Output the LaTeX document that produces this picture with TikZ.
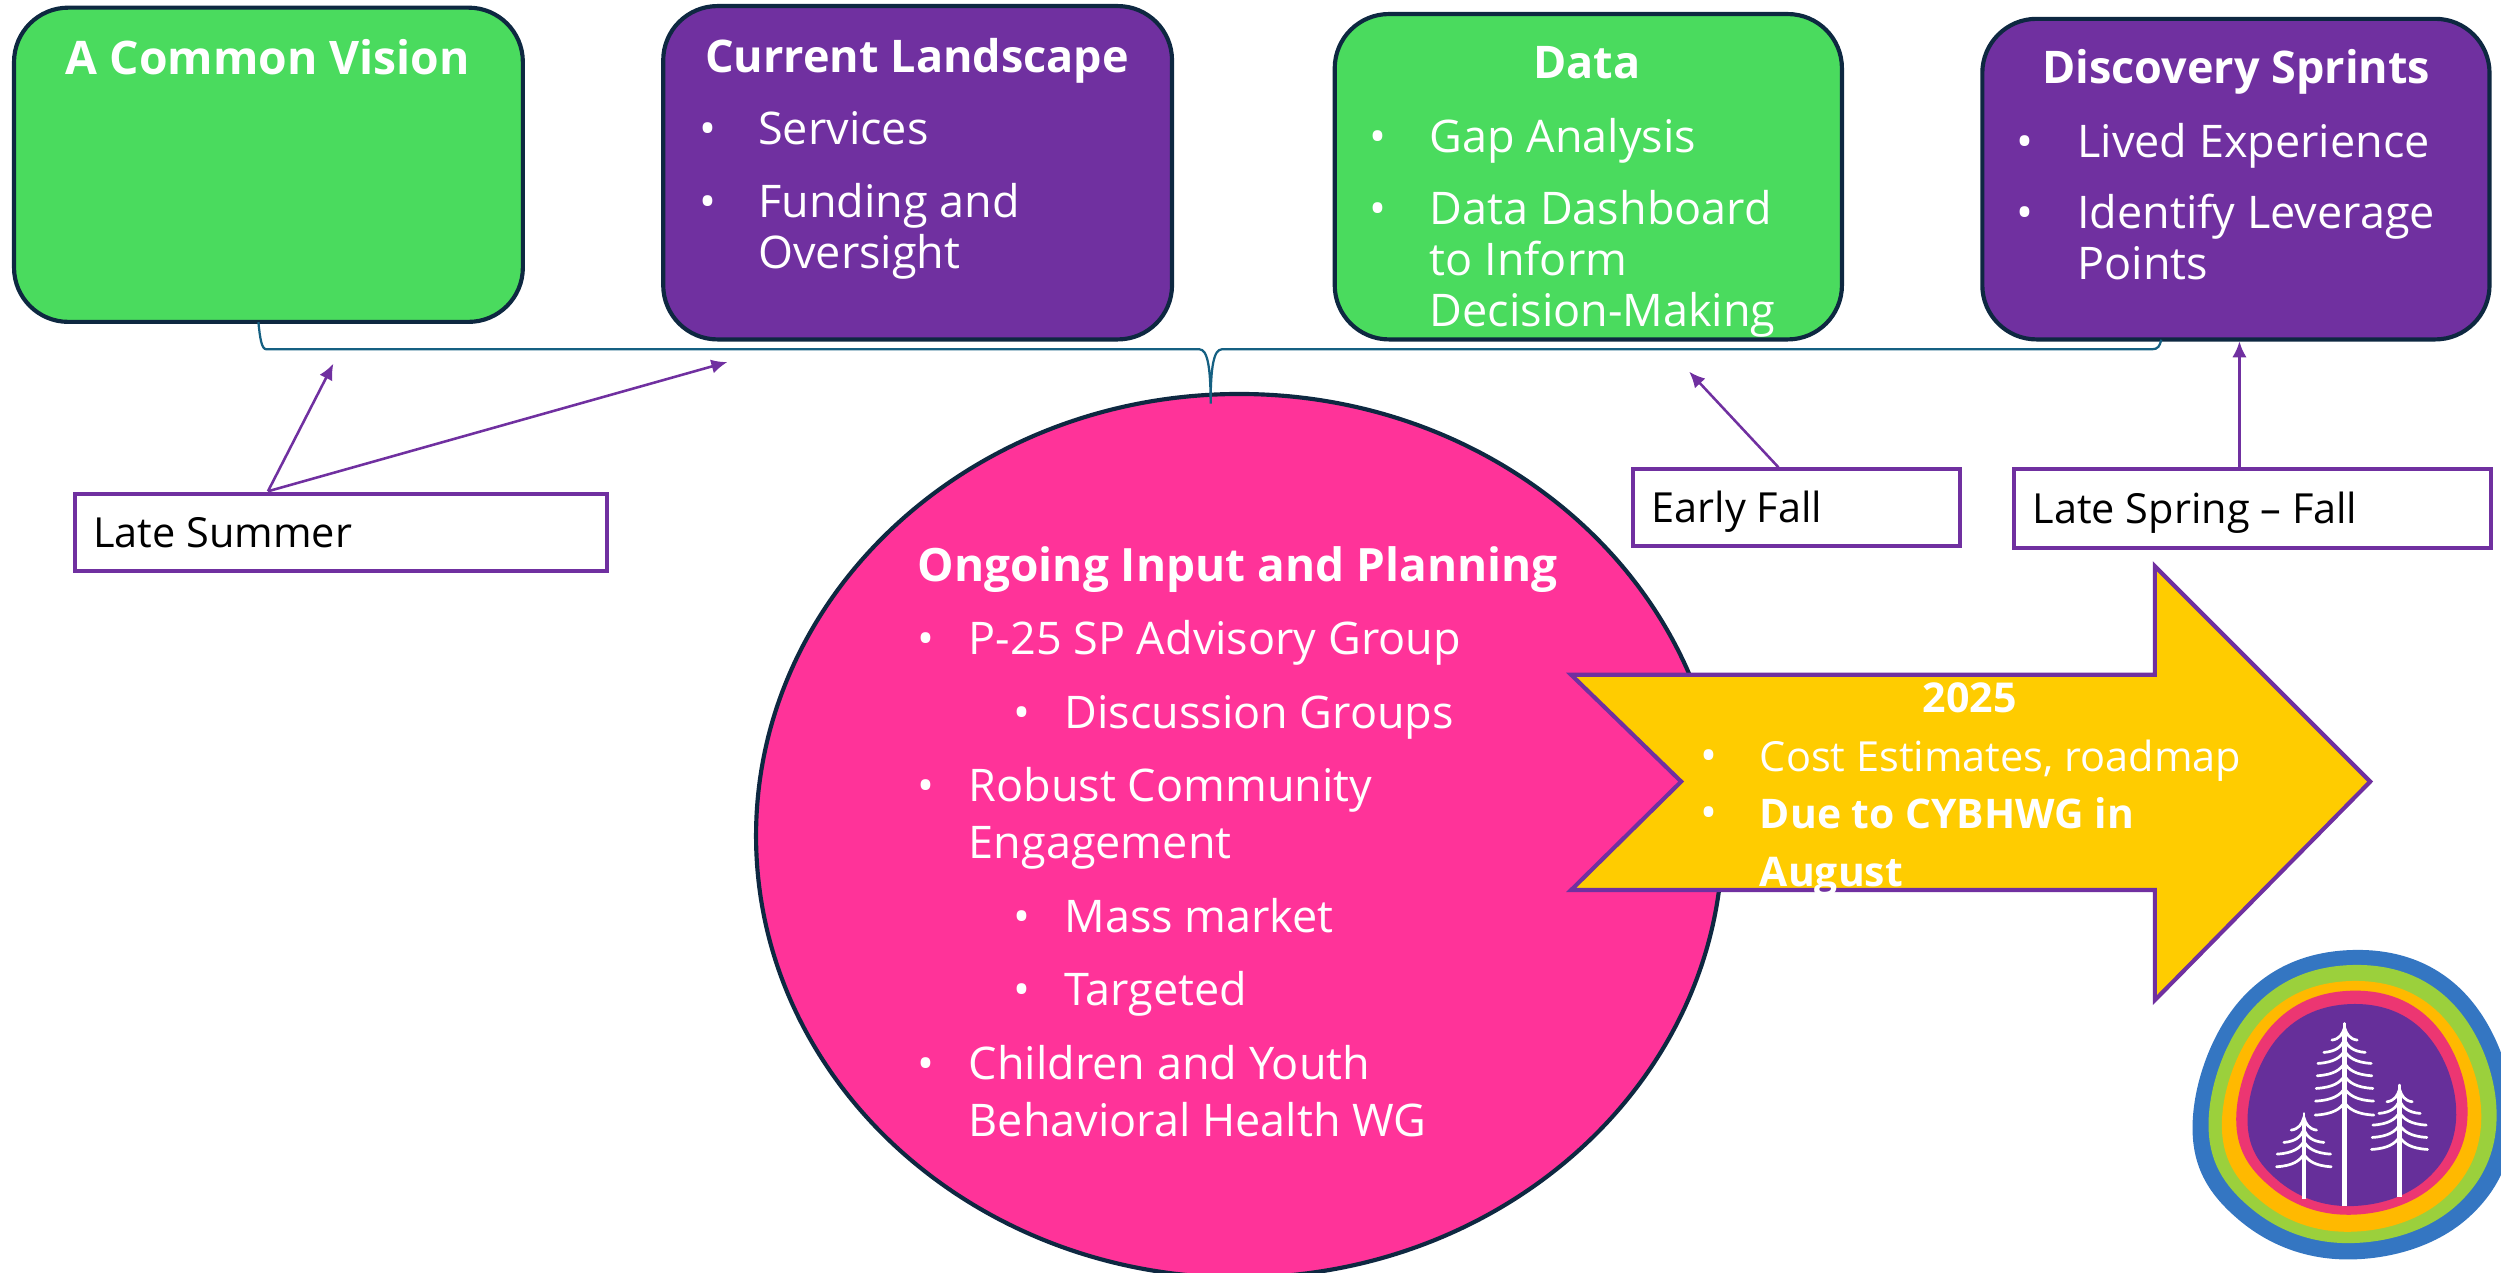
\documentclass[tikz,border=0pt]{standalone}
\usepackage{fontspec}
\setmainfont{Open Sans}
\usetikzlibrary{arrows.meta,shapes.geometric}
\definecolor{grn}{HTML}{4ADB5E}
\definecolor{prp}{HTML}{7030A0}
\definecolor{pnk}{HTML}{FF3399}
\definecolor{ylw}{HTML}{FFCC00}
\definecolor{nvy}{HTML}{0E2841}
\definecolor{tealb}{HTML}{156082}
\definecolor{lgblue}{HTML}{3476C2}
\definecolor{lggreen}{HTML}{9BD03C}
\definecolor{lgorange}{HTML}{FFB900}
\definecolor{lgpink}{HTML}{EC3672}
\definecolor{lgpurple}{HTML}{662F9A}
\tikzset{
  card/.style={draw=nvy,line width=1.3pt,rounded corners=17pt,inner sep=0pt,anchor=north west},
  tag/.style={draw=prp,line width=1.3pt,fill=white,inner sep=0pt,anchor=north west},
  txt/.style={anchor=base west,inner sep=0pt,text=white,font=\fontsize{14.1}{16}\selectfont},
  ttl/.style={anchor=base,inner sep=0pt,text=white,font=\fontsize{14.1}{16}\selectfont\bfseries},
  tagtxt/.style={anchor=base west,inner sep=0pt,text=black,font=\fontsize{13}{15}\selectfont},
  lnk/.style={draw=prp,line width=0.8pt,-{Latex[length=5pt,width=4.5pt]}},
  brace/.style={draw=tealb,line width=0.7pt},
  branch/.style={draw=white,line width=0.85pt,line cap=round},
  trunk/.style={draw=white,line width=1.4pt}
}
\newcommand{\li}[5]{\node[txt] (#1b) at (#2,#4) {•}; \node[txt] (#1) at (#3,#4) {#5};}
\newcommand{\blob}[5]{\fill[#1] plot[smooth cycle,tension=0.68] coordinates {
 ({#2+#4*(-0.02)},{#3+#5*(-1)}) ({#2+#4*0.68},{#3+#5*(-0.74)}) ({#2+#4*1},{#3+#5*0.05})
 ({#2+#4*0.72},{#3+#5*0.73}) ({#2+#4*(-0.02)},{#3+#5*1}) ({#2+#4*(-0.71)},{#3+#5*0.745})
 ({#2+#4*(-1)},{#3+#5*0.142}) ({#2+#4*(-0.70)},{#3+#5*(-0.68)})};}
\newcommand{\tree}[4]{%
 \draw[trunk] (#1,#2+20) -- (#1,#3);
 \draw[branch] (#1,#2) -- (#1,#2+50);
 \foreach \ty/\dx in {#4}{
  \draw[branch] ({#1-\dx},\ty) .. controls ({#1-0.4*\dx},{\ty-3}) and ({#1-0.15*\dx},{\ty-18}) .. (#1,{\ty-38})
     .. controls ({#1+0.15*\dx},{\ty-18}) and ({#1+0.4*\dx},{\ty-3}) .. ({#1+\dx},\ty);
 }}
\begin{document}
\begin{tikzpicture}[x=0.5pt,y=-0.5pt]
\useasboundingbox (0,0) rectangle (1568,798.1);
\clip (0,0) rectangle (1568,798.1);
% cards
\node[card,fill=grn,minimum width=159.5pt,minimum height=98.5pt] (vision) at (7.5,3.5) {};
\node[card,fill=prp,minimum width=159.5pt,minimum height=104.5pt] (land) at (414.5,2.5) {};
\node[card,fill=grn,minimum width=159pt,minimum height=102pt] (data) at (835.5,7.5) {};
\node[card,fill=prp,minimum width=159pt,minimum height=100.5pt] (sprint) at (1241.5,10.5) {};
% circle
\node[draw=nvy,line width=1.3pt,fill=pnk,ellipse,minimum width=303pt,minimum height=277pt,inner sep=0pt] (circ) at (777,524) {};
% brace
\coordinate (bl) at (162,202); \coordinate (bt) at (759,253); \coordinate (br) at (1355,213);
\draw[brace] (bl) .. controls (163,212) and (164,219) .. (167,219) -- (752,219)
  .. controls (757,219) and (759,230) .. (bt) .. controls (759,230) and (761,219) .. (766,219)
  -- (1349,219) .. controls (1353,219) and (1354,217) .. (br);
% arrow
\draw[draw=prp,line width=1.3pt,fill=ylw,line join=miter] (985,423) -- (1351,423) -- (1351,355) -- (1486,490) -- (1351,627) -- (1351,558) -- (985,558) -- (1054,490) -- cycle;
% tags
\node[tag,minimum width=167pt,minimum height=24pt] (summer) at (45.5,308.5) {};
\node[tag,minimum width=102.5pt,minimum height=24pt] (early) at (1022.5,293) {};
\node[tag,minimum width=149.5pt,minimum height=24.5pt] (spring) at (1261.5,293) {};
\coordinate (s0) at (168,308); \coordinate (s1) at (209,228); \coordinate (s2) at (456,227);
\coordinate (e0) at (1115,293); \coordinate (e1) at (1059,233);
\coordinate (p0) at (1404,293); \coordinate (p1) at (1404,214);
\draw[lnk] (s0) -- (s1);
\draw[lnk] (s0) -- (s2);
\draw[lnk] (e0) -- (e1);
\draw[lnk] (p0) -- (p1);
\node[tagtxt] (tsummer) at (58,343.5) {Late Summer};
\node[tagtxt] (tearly) at (1035,327.5) {Early Fall};
\node[tagtxt] (tspring) at (1274,328.5) {Late Spring – Fall};
% card text
\node[ttl,font=\fontsize{14.5}{16}\selectfont\bfseries] (t1) at (168,46.5) {A Common Vision};
\node[ttl] (t2) at (575,45.5) {Current Landscape};
\li{a1}{438}{475}{90.5}{Services}
\li{a2}{438}{475}{136.5}{Funding and}
\node[txt] (a3) at (475,168.5) {Oversight};
\node[ttl] (t3) at (995,49.5) {Data};
\li{b1}{858}{896}{95.5}{Gap Analysis}
\li{b2}{858}{896}{140.5}{Data Dashboard}
\node[txt] (b3) at (896,172.5) {to Inform};
\node[txt] (b4) at (896,204.5) {Decision-Making};
\node[ttl] (t4) at (1402,52.5) {Discovery Sprints};
\li{c1}{1264}{1302}{98.5}{Lived Experience}
\li{c2}{1264}{1302}{143.5}{Identify Leverage}
\node[txt] (c3) at (1302,175.5) {Points};
% circle text
\node[ttl,anchor=base west,font=\fontsize{14.4}{16}\selectfont\bfseries] (t5) at (575,364.5) {Ongoing Input and Planning};
\li{d1}{575}{607}{410.5}{P-25 SP Advisory Group}
\li{d2}{635}{667}{456.5}{Discussion Groups}
\li{d3}{575}{607}{502.5}{Robust Community}
\node[txt] (d4) at (607,538.5) {Engagement};
\li{d5}{635}{667}{584.5}{Mass market}
\li{d6}{635}{667}{630.5}{Targeted}
\li{d7}{575}{607}{676.5}{Children and Youth}
\node[txt] (d8) at (607,712.5) {Behavioral Health WG};
% arrow text
\node[ttl,font=\fontsize{12.9}{15}\selectfont\bfseries] (t6) at (1235,446.5) {2025};
\li{f1}{1066}{1103}{483.5}{\fontsize{13}{15}\selectfont Cost Estimates, roadmap}
\li{f2}{1066}{1103}{519.5}{\fontsize{12.8}{15}\selectfont\bfseries Due to CYBHWG in}
\node[txt,font=\fontsize{12.8}{15}\selectfont\bfseries] (f3) at (1103,555.5) {August};
% logo
\begin{scope}[shift={(1316.7,564.3)},scale=0.209]
\blob{lgblue}{758}{614}{481}{464}
\blob{lggreen}{757}{612}{432}{417}
\blob{lgorange}{754}{619}{389}{376}
\blob{lgpink}{755}{608}{347}{336}
\blob{lgpurple}{755}{615}{313}{303}
\tree{733}{370}{918}{420/38,457/62,490/80,527/82,565/85,603/87,645/88}
\tree{611}{640}{898}{690/38,727/60,762/80,800/82}
\tree{898}{555}{892}{605/38,640/62,675/80,712/82,748/84}
\end{scope}
\end{tikzpicture}
\end{document}
